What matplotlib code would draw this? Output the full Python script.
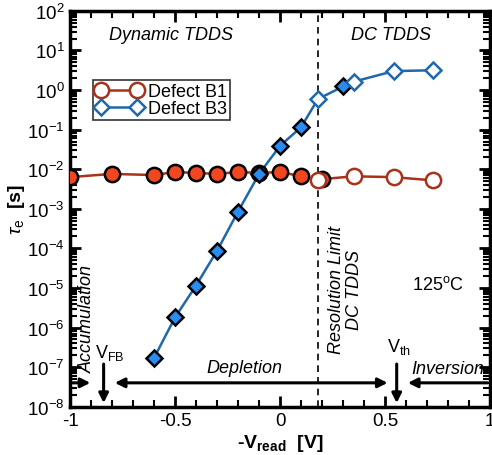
import matplotlib
matplotlib.use('Agg')
import matplotlib.pyplot as plt
from matplotlib.ticker import LogLocator, MultipleLocator, NullFormatter

plt.rcParams['font.family'] = ['Liberation Sans', 'DejaVu Sans']
plt.rcParams['mathtext.fontset'] = 'custom'
plt.rcParams['mathtext.rm'] = 'Liberation Sans'
plt.rcParams['mathtext.it'] = 'Liberation Sans:italic'
plt.rcParams['mathtext.bf'] = 'Liberation Sans:bold'

# Defect B1: filled = dynamic TDDS, open = DC TDDS
b1_x_dyn = [-1.0, -0.8, -0.6, -0.5, -0.4, -0.3, -0.2, -0.1, 0.0, 0.1, 0.2]
b1_tau_dyn = [6.3e-3, 7.6e-3, 7.1e-3, 8.5e-3, 8.0e-3, 7.6e-3, 8.5e-3, 8.0e-3, 8.5e-3, 6.6e-3, 5.6e-3]
b1_x_dc = [0.18, 0.35, 0.54, 0.73]
b1_tau_dc = [5.2e-3, 6.6e-3, 6.3e-3, 5.2e-3]

# Defect B3
b3_x_dyn = [-0.6, -0.5, -0.4, -0.3, -0.2, -0.1, 0.0, 0.1, 0.3]
b3_tau_dyn = [1.7e-7, 1.8e-6, 1.15e-5, 8.7e-5, 8.5e-4, 7.6e-3, 3.9e-2, 1.15e-1, 1.23]
b3_x_dc = [0.18, 0.35, 0.54, 0.73]
b3_tau_dc = [0.59, 1.62, 3.0, 3.16]

res_limit = 0.18
v_fb = -0.84
v_th = 0.555
arrow_y = 4e-8

red_line = '#a8321c'
red_fill = '#f2461e'
blue_line = '#1f68aa'
blue_fill = '#2a8cf0'

fig = plt.figure(figsize=(4.92, 4.56), dpi=100)
ax = fig.add_axes([0.1423, 0.106, 0.854, 0.868])

def merged(xa, ya, xb, yb):
    pts = sorted(zip(xa + xb, ya + yb), key=lambda p: p[0])
    return [p[0] for p in pts], [p[1] for p in pts]

# B1
mx, my = merged(b1_x_dyn, b1_tau_dyn, b1_x_dc, b1_tau_dc)
ax.plot(mx, my, color=red_line, lw=1.8, zorder=2)
ax.plot(b1_x_dyn, b1_tau_dyn, 'o', ms=11, mfc=red_fill, mec='black', mew=1.8, zorder=3)
ax.plot(b1_x_dc, b1_tau_dc, 'o', ms=11, mfc='white', mec=red_line, mew=1.8, zorder=4)

# B3
mx, my = merged(b3_x_dyn, b3_tau_dyn, b3_x_dc, b3_tau_dc)
ax.plot(mx, my, color=blue_line, lw=1.8, zorder=2)
ax.plot(b3_x_dyn, b3_tau_dyn, 'D', ms=8, mfc=blue_fill, mec='black', mew=1.8, zorder=5)
ax.plot(b3_x_dc, b3_tau_dc, 'D', ms=8, mfc='white', mec=blue_line, mew=1.8, zorder=6)

# legend handles
h1, = ax.plot([], [], '-o', color=red_line, ms=11, mfc='white', mec=red_line, mew=1.8, lw=1.8)
h3, = ax.plot([], [], '-D', color=blue_line, ms=8, mfc='white', mec=blue_line, mew=1.8, lw=1.8)
leg = ax.legend([h1, h3], ['Defect B1', 'Defect B3'], loc='upper left',
                bbox_to_anchor=(0.055, 0.825), fontsize=13, frameon=True, fancybox=False,
                edgecolor='black', numpoints=2, handlelength=2.6, borderpad=0.15,
                labelspacing=0.0, handletextpad=0.3, borderaxespad=0)
leg.get_frame().set_linewidth(1.2)

ax.axvline(res_limit, color='black', ls='--', lw=1.2, dashes=(4, 3), zorder=1)

ax.set_yscale('log')
ax.set_xlim(-1, 1)
ax.set_ylim(1e-8, 1e2)
ax.set_xticks([-1, -0.5, 0, 0.5, 1])
ax.set_xticklabels(['-1', '-0.5', '0', '0.5', '1'])
ax.xaxis.set_minor_locator(MultipleLocator(0.1))
ax.yaxis.set_major_locator(LogLocator(base=10, numticks=20))
ax.yaxis.set_minor_locator(LogLocator(base=10, subs=range(2, 10), numticks=20))
ax.yaxis.set_minor_formatter(NullFormatter())
ax.tick_params(which='both', direction='in', top=True, right=True, labelsize=13.5)
ax.tick_params(which='major', length=8, width=2, pad=4)
ax.tick_params(which='minor', length=5, width=1.5)
for sp in ax.spines.values():
    sp.set_linewidth(2.5)

ax.set_ylabel(r'$\tau_\mathregular{e}$  $\mathbf{[s]}$', fontsize=14, labelpad=0)
ax.set_xlabel(r'-V$_\mathbf{read}$  [V]', fontsize=14, fontweight='bold', labelpad=2)

# arrows
aprops = dict(arrowstyle='-|>', color='black', lw=2.2, mutation_scale=14)
ax.annotate('', xy=(-0.89, arrow_y), xytext=(-1.0, arrow_y), arrowprops=aprops)
ax.annotate('', xy=(-0.8, arrow_y), xytext=(0.525, arrow_y),
            arrowprops=dict(arrowstyle='<|-|>', color='black', lw=2.2, mutation_scale=14))
ax.annotate('', xy=(0.595, arrow_y), xytext=(1.0, arrow_y), arrowprops=aprops)
ax.annotate('', xy=(v_fb, 1.05e-8), xytext=(v_fb, 1.4e-7), arrowprops=aprops)
ax.annotate('', xy=(v_th, 1.05e-8), xytext=(v_th, 1.4e-7), arrowprops=aprops)

# labels
fs = 13
ax.text(-0.52, 25, 'Dynamic TDDS', style='italic', fontsize=fs, ha='center', va='center')
ax.text(0.53, 25, 'DC TDDS', style='italic', fontsize=fs, ha='center', va='center')
ax.text(-0.915, 1.7e-6, 'Accumulation', style='italic', fontsize=fs, rotation=90,
        ha='center', va='center')
ax.text(-0.81, 2.4e-7, r'V$_\mathregular{FB}$', fontsize=fs, ha='center', va='center')
ax.text(-0.17, 1.0e-7, 'Depletion', style='italic', fontsize=fs, ha='center', va='center')
ax.text(0.31, 9.3e-6, 'Resolution Limit\nDC TDDS', style='italic', fontsize=fs, rotation=90,
        ha='center', va='center', linespacing=1.05)
ax.text(0.75, 1.25e-5, r'125$^\mathregular{o}$C', fontsize=fs, ha='center', va='center')
ax.text(0.565, 3.4e-7, r'V$_\mathregular{th}$', fontsize=fs, ha='center', va='center')
ax.text(0.8, 9e-8, 'Inversion', style='italic', fontsize=fs, ha='center', va='center')

fig.savefig('out.png', dpi=100)
